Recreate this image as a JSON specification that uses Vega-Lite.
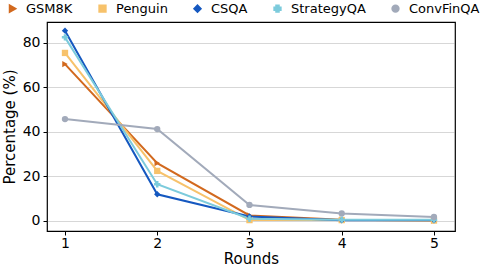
{
  "$schema": "https://vega.github.io/schema/vega-lite/v6.json",
  "autosize": "none",
  "width": 408,
  "height": 209,
  "padding": {"left": 47, "top": 22, "right": 37, "bottom": 35},
  "config": {
    "font": "DejaVu Sans",
    "view": {"stroke": "#000", "strokeWidth": 1.2},
    "axis": {"labelFont": "DejaVu Sans", "titleFont": "DejaVu Sans", "labelColor": "#000", "titleColor": "#000", "domain": false, "tickColor": "#000", "tickSize": 4, "labelFontSize": 14, "titleFontSize": 15, "titleFontWeight": "normal"}
  },
  "data": {"values": [
    {"series": "GSM8K", "round": 1, "value": 70.5},
    {"series": "GSM8K", "round": 2, "value": 26},
    {"series": "GSM8K", "round": 3, "value": 2.5},
    {"series": "GSM8K", "round": 4, "value": 0.6},
    {"series": "GSM8K", "round": 5, "value": 0.2},
    {"series": "Penguin", "round": 1, "value": 75.5},
    {"series": "Penguin", "round": 2, "value": 22.5},
    {"series": "Penguin", "round": 3, "value": 0.4},
    {"series": "Penguin", "round": 4, "value": 0.4},
    {"series": "Penguin", "round": 5, "value": 0.2},
    {"series": "CSQA", "round": 1, "value": 85.5},
    {"series": "CSQA", "round": 2, "value": 12},
    {"series": "CSQA", "round": 3, "value": 2},
    {"series": "CSQA", "round": 4, "value": 0.3},
    {"series": "CSQA", "round": 5, "value": 0.3},
    {"series": "StrategyQA", "round": 1, "value": 82.5},
    {"series": "StrategyQA", "round": 2, "value": 16.5},
    {"series": "StrategyQA", "round": 3, "value": 1},
    {"series": "StrategyQA", "round": 4, "value": 0.6},
    {"series": "StrategyQA", "round": 5, "value": 0.6},
    {"series": "ConvFinQA", "round": 1, "value": 45.8},
    {"series": "ConvFinQA", "round": 2, "value": 41.3},
    {"series": "ConvFinQA", "round": 3, "value": 7.2},
    {"series": "ConvFinQA", "round": 4, "value": 3.4},
    {"series": "ConvFinQA", "round": 5, "value": 1.8}
  ]},
  "mark": {"type": "line", "strokeWidth": 2, "point": {"size": 40, "filled": true, "opacity": 1}},
  "encoding": {
    "x": {"field": "round", "type": "quantitative", "title": "Rounds",
      "scale": {"domain": [0.805, 5.228], "nice": false, "zero": false},
      "axis": {"values": [1, 2, 3, 4, 5], "grid": false, "format": "d", "titlePadding": 1, "labelPadding": 1, "labelFontSize": 14}},
    "y": {"field": "value", "type": "quantitative", "title": "Percentage (%)",
      "scale": {"domain": [-4.5, 89.4], "nice": false, "zero": false},
      "axis": {"values": [0, 20, 40, 60, 80], "grid": true, "gridDash": [1, 1], "gridColor": "#999", "gridWidth": 0.8, "titlePadding": 5, "labelPadding": 3}},
    "color": {"field": "series", "type": "nominal",
      "scale": {"domain": ["GSM8K", "Penguin", "CSQA", "StrategyQA", "ConvFinQA"], "range": ["#d2691e", "#f7c26b", "#1558c0", "#7ccbdc", "#a2aaba"]},
      "legend": {"orient": "none", "legendX": -41, "legendY": -20, "direction": "horizontal", "title": null, "labelFontSize": 13, "labelFont": "DejaVu Sans", "labelColor": "#000", "symbolSize": 40, "symbolStrokeWidth": 2, "columnPadding": 22, "labelOffset": 7}},
    "shape": {"field": "series", "type": "nominal",
      "scale": {"domain": ["GSM8K", "Penguin", "CSQA", "StrategyQA", "ConvFinQA"], "range": ["triangle-right", "square", "diamond", "cross", "circle"]}}
  }
}
